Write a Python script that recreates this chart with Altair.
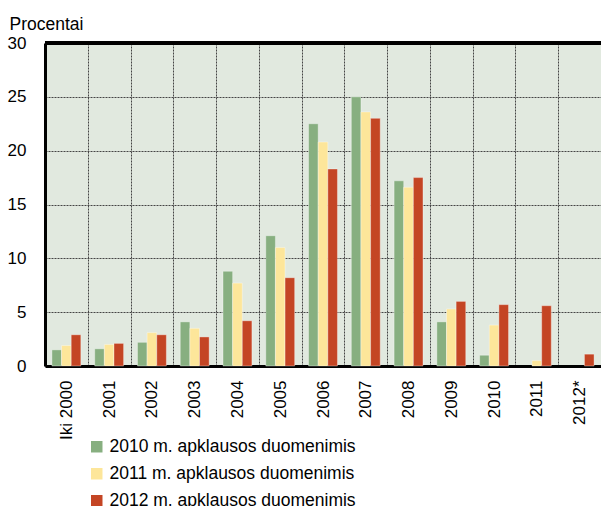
import altair as alt
import pandas as pd

categories = ["Iki 2000", "2001", "2002", "2003", "2004", "2005", "2006",
              "2007", "2008", "2009", "2010", "2011", "2012*"]
series_names = ["2010 m. apklausos duomenimis",
                "2011 m. apklausos duomenimis",
                "2012 m. apklausos duomenimis"]
s2010 = [1.5, 1.6, 2.2, 4.1, 8.8, 12.1, 22.5, 25.0, 17.2, 4.1, 1.0, None, None]
s2011 = [1.9, 2.0, 3.1, 3.5, 7.7, 11.0, 20.8, 23.6, 16.6, 5.3, 3.8, 0.5, None]
s2012 = [2.9, 2.1, 2.9, 2.7, 4.2, 8.2, 18.3, 23.0, 17.5, 6.0, 5.7, 5.6, 1.1]
colors = ["#87AF80", "#FDE69A", "#C44524"]

rows = []
for name, vals in zip(series_names, [s2010, s2011, s2012]):
    for c, v in zip(categories, vals):
        if v is not None:
            rows.append({"cat": c, "series": name, "value": v})
df = pd.DataFrame(rows)

FONT = "Liberation Sans"
W, H = 556, 323

bars = alt.Chart(df).mark_bar(stroke="white", strokeOpacity=0.35, strokeWidth=1).encode(
    x=alt.X("cat:N", sort=categories,
            scale=alt.Scale(paddingInner=0, paddingOuter=0),
            axis=alt.Axis(title=None, labelAngle=-90, labelFontSize=17, labelFont=FONT,
                          labelColor="black", labelPadding=14, ticks=False,
                          domainColor="black", domainWidth=3,
                          grid=True, gridColor="#444444", gridDash=[2, 1], gridWidth=1,
                          tickBand="extent")),
    xOffset=alt.XOffset("series:N", sort=series_names,
                        scale=alt.Scale(paddingInner=0, paddingOuter=0.72)),
    y=alt.Y("value:Q", scale=alt.Scale(domain=[0, 30], nice=False),
            axis=alt.Axis(values=[0, 5, 10, 15, 20, 25, 30], title="Procentai",
                          titleAngle=0, titleX=-36, titleY=-14, titleAlign="left",
                          titleBaseline="alphabetic", titleFontSize=17.5,
                          titleFontWeight="normal", titleFont=FONT, titleColor="black",
                          labelFontSize=17, labelFont=FONT, labelColor="black",
                          labelPadding=19, ticks=False, domainColor="black",
                          domainWidth=3, grid=True, gridColor="#444444",
                          gridDash=[2, 1], gridWidth=1)),
    color=alt.Color("series:N", sort=series_names,
                    scale=alt.Scale(domain=series_names, range=colors),
                    legend=alt.Legend(title=None, orient="none", legendX=43, legendY=395,
                                      symbolType="square", symbolSize=132,
                                      symbolStrokeWidth=0, labelFontSize=17.5,
                                      labelFont=FONT, labelColor="black",
                                      labelOffset=4, rowPadding=8, labelLimit=500)),
)

top = alt.Chart(df).mark_rule(color="black", strokeWidth=3).encode(
    y=alt.value(0), x=alt.value(0), x2=alt.value(W))

chart = alt.layer(bars, top).properties(
    width=W, height=H,
    padding={"left": 45, "top": 43, "right": 0, "bottom": 140},
    autosize=alt.AutoSizeParams(type="none"),
    background="white",
).configure_view(fill="#E1E9DF", stroke=None)

chart.save("out.html", embed_options={"renderer": "svg", "actions": False})
